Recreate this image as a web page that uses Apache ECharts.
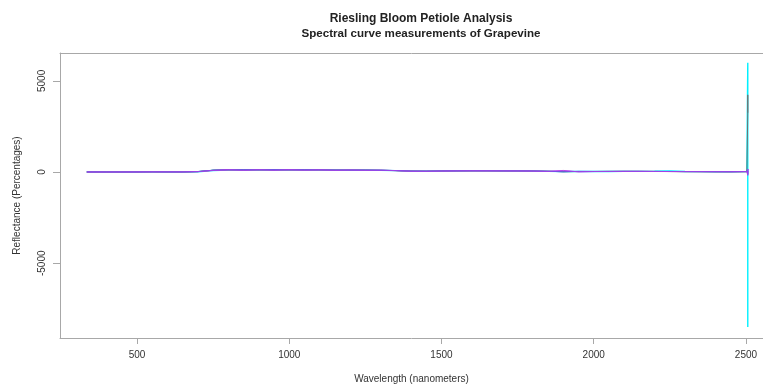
<!DOCTYPE html>
<html>
<head>
<meta charset="utf-8">
<script src="https://cdn.jsdelivr.net/npm/echarts@6/dist/echarts.min.js"></script>
<style>html,body{margin:0;padding:0;background:#fff}#c{width:763px;height:389px}</style>
</head>
<body>
<div id="c"></div>
<script>
// Wavelengths (nm); last three entries form the vertical spike near 2505 nm
const wavelengths = [335, 400, 450, 500, 550, 600, 650, 700, 750, 800, 850, 900, 950, 1000, 1050, 1100, 1150, 1200, 1250, 1300, 1350, 1400, 1450, 1500, 1550, 1600, 1650, 1700, 1750, 1800, 1850, 1900, 1950, 2000, 2050, 2100, 2150, 2200, 2250, 2300, 2350, 2400, 2450, 2503, 2506, 2506, 2506];

const sampleBlue    = [8, 6, 5, 7, 10, 9, 8, 25, 105, 120, 125, 122, 128, 120, 125, 118, 112, 108, 110, 100, 85, 55, 50, 62, 68, 70, 69, 66, 64, 60, 45, 15, 40, 35, 38, 42, 40, 36, 32, 28, 25, 22, 20, 30, 150, -140, 60];
const samplePurple  = [5, 4, 6, 8, 12, 10, 9, 30, 95, 140, 90, 135, 95, 140, 100, 130, 95, 120, 100, 110, 80, 50, 48, 58, 66, 72, 70, 68, 65, 58, 40, 70, 20, 30, 34, 38, 40, 34, 30, 26, 24, 20, 18, 25, -180, 170, 0];
const sampleMagenta = [3, 5, 4, 6, 9, 8, 7, 20, 85, 110, 115, 112, 118, 110, 115, 108, 104, 100, 98, 92, 78, 45, 42, 55, 60, 62, 60, 58, 56, 52, 38, 90, 10, 28, 32, 36, 35, 32, 28, 24, 22, 18, 16, 22, 110, -90, 30];
const sampleGreen   = [6, 5, 6, 9, 14, 11, 9, 28, 100, 118, 122, 120, 124, 118, 122, 114, 110, 104, 106, 96, 82, 52, 46, 58, 64, 66, 65, 62, 60, 56, 42, 25, 30, 32, 35, 38, 37, 34, 30, 26, 23, 20, 18, 24, 60, 10, 10];
const sampleGray    = [5, 4, 5, 7, 10, 9, 8, 22, 98, 116, 120, 118, 122, 116, 120, 112, 108, 104, 104, 94, 80, 50, 46, 57, 63, 65, 64, 61, 59, 55, 41, 20, 32, 31, 34, 37, 36, 33, 29, 25, 22, 19, 17, 22, 3250, 4235, 3250];
const sampleCyan    = [4, 3, 4, 6, 8, 7, 6, 18, 90, 115, 118, 116, 120, 114, 118, 110, 106, 102, 104, 95, 80, 48, 45, 56, 62, 64, 63, 60, 58, 54, 40, 30, 35, 30, 33, 36, 38, 45, 55, 30, 24, 20, 18, 26, 6000, -8500, -8500];

const xTicks = [500, 1000, 1500, 2000, 2500];
const yTicks = [-5000, 0, 5000];

const titleText = 'Riesling Bloom Petiole Analysis';
const subtitleText = 'Spectral curve measurements of Grapevine';
const xName = 'Wavelength (nanometers)';
const yName = 'Reflectance (Percentages)';

// drawing order: first is lowest
const seriesDefs = [
  { name: 'S6', values: sampleCyan,    color: '#00f0ff', width: 1.4 },
  { name: 'S1', values: sampleGray,    color: '#707070', width: 1 },
  { name: 'S2', values: sampleGreen,   color: '#3ccf3c', width: 1 },
  { name: 'S4', values: sampleMagenta, color: '#f050f0', width: 1 },
  { name: 'S3', values: sampleBlue,    color: '#5050f0', width: 1 },
  { name: 'S5', values: samplePurple,  color: '#a040e8', width: 1 }
];

const font = '"Liberation Sans", Arial, sans-serif';
const boxColor = '#a8a8a8';
const chart = echarts.init(document.getElementById('c'), null, { renderer: 'canvas' });
chart.setOption({
  animation: false,
  backgroundColor: '#ffffff',
  title: [
    { text: titleText, left: 416, top: 8, textAlign: 'center',
      textStyle: { fontFamily: font, fontSize: 12, fontWeight: 'bold', color: '#222' } },
    { text: subtitleText, left: 416, top: 23, textAlign: 'center',
      textStyle: { fontFamily: font, fontSize: 11.6, fontWeight: 'bold', color: '#222' } }
  ],
  grid: { left: 60, top: 53, right: 0, bottom: 50, show: false },
  xAxis: [{
    type: 'value', min: 247, max: 2556, position: 'bottom',
    name: xName, nameLocation: 'middle', nameGap: 36,
    nameTextStyle: { fontFamily: font, fontSize: 10, color: '#333' },
    axisLine: { show: true, onZero: false, lineStyle: { color: boxColor } },
    splitLine: { show: false },
    axisTick: { show: true, length: 6, customValues: xTicks, lineStyle: { color: boxColor } },
    axisLabel: { customValues: xTicks, margin: 12, fontFamily: font, fontSize: 10, color: '#333', formatter: v => String(v) }
  }, {
    type: 'value', min: 247, max: 2556, position: 'top',
    axisLine: { show: true, onZero: false, lineStyle: { color: boxColor } },
    splitLine: { show: false }, axisTick: { show: false }, axisLabel: { show: false }
  }],
  yAxis: {
    type: 'value', min: -9100, max: 6530,
    name: yName, nameLocation: 'middle', nameGap: 38, nameRotate: 90,
    nameTextStyle: { fontFamily: font, fontSize: 10, color: '#333' },
    axisLine: { show: true, onZero: false, lineStyle: { color: boxColor } },
    splitLine: { show: false },
    axisTick: { show: true, length: 7, customValues: yTicks, lineStyle: { color: boxColor } },
    axisLabel: { customValues: yTicks, rotate: 90, margin: 13, fontFamily: font, fontSize: 10, color: '#333', formatter: v => String(v) }
  },
  series: seriesDefs.map(s => ({
    name: s.name, type: 'line', showSymbol: false, symbol: 'none', xAxisIndex: 0,
    data: wavelengths.map((w, i) => [w, s.values[i]]),
    lineStyle: { width: s.width, color: s.color },
    itemStyle: { color: s.color },
    silent: true
  }))
});
</script>
</body>
</html>
